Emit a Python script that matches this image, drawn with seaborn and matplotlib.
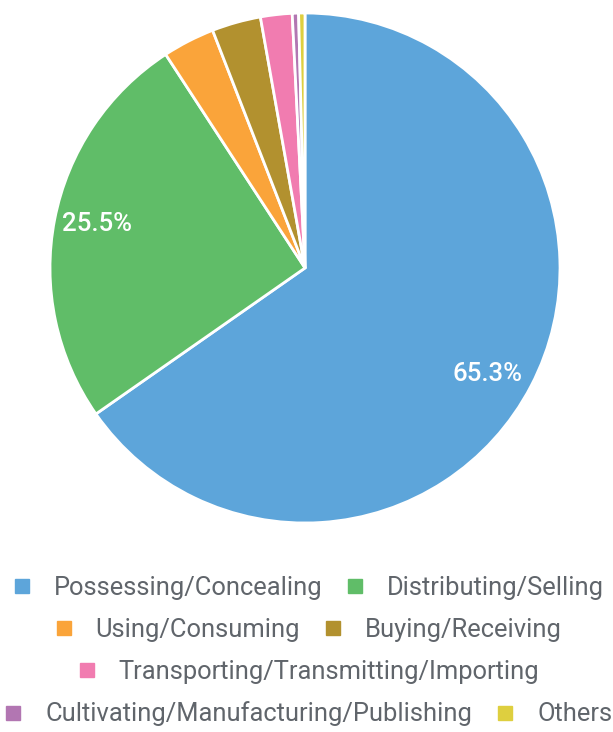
import matplotlib
matplotlib.use("Agg")
import matplotlib.pyplot as plt
import matplotlib.transforms as mtransforms
from matplotlib.lines import Line2D
import seaborn as sns

categories = ["Possessing/Concealing", "Distributing/Selling", "Using/Consuming",
              "Buying/Receiving", "Transporting/Transmitting/Importing",
              "Cultivating/Manufacturing/Publishing", "Others"]
values = [65.3, 25.5, 3.3, 3.1, 2.0, 0.4, 0.4]
colors = ["#5DA5DA", "#60BD68", "#FAA43A", "#B2912F", "#F17CB0", "#B276B2", "#DECF3F"]
legend_rows = [[0, 1], [2, 3], [4], [5, 6]]

sns.set_theme(style="white")
plt.rcParams["font.family"] = ["Roboto", "DejaVu Sans"]

W, H = 613, 732
fig = plt.figure(figsize=(W / 100, H / 100), dpi=100)
cx, cy, r = 305, 268, 255
ax = fig.add_axes([(cx - r) / W, (H - cy - r) / H, 2 * r / W, 2 * r / H])

def fmt(p):
    return f"{p:.1f}%" if p > 10 else ""

wedges, texts, autotexts = ax.pie(
    values, colors=colors, startangle=90, counterclock=False,
    autopct=fmt, pctdistance=0.83,
    wedgeprops=dict(edgecolor="white", linewidth=2),
    textprops=dict(color="white", fontsize=18.5, fontweight="medium"),
)
# small label nudges (in pixels) to match reference placement
nudges = {0: (-5, -8), 1: (0, 4)}
for i, (dx, dy) in nudges.items():
    autotexts[i].set_transform(mtransforms.offset_copy(
        ax.transData, fig=fig, x=dx * 0.72, y=dy * 0.72, units="points"))

ax.set_xlim(-1, 1)
ax.set_ylim(-1, 1)
ax.set_aspect("equal")
ax.axis("off")

row_y = [588, 630, 672, 714]
for row, y in zip(legend_rows, row_y):
    handles = [Line2D([], [], marker="s", linestyle="", markersize=9.5,
                      color=colors[i]) for i in row]
    labels = [categories[i] for i in row]
    fig.legend(handles, labels, loc="center", bbox_to_anchor=(0.5, 1 - y / H),
               ncol=len(row), frameon=False, fontsize=18.4, labelcolor="#60656b",
               handlelength=1.0, handletextpad=0.75, columnspacing=0.8,
               borderpad=0, borderaxespad=0)

fig.savefig("out.png", dpi=100)
